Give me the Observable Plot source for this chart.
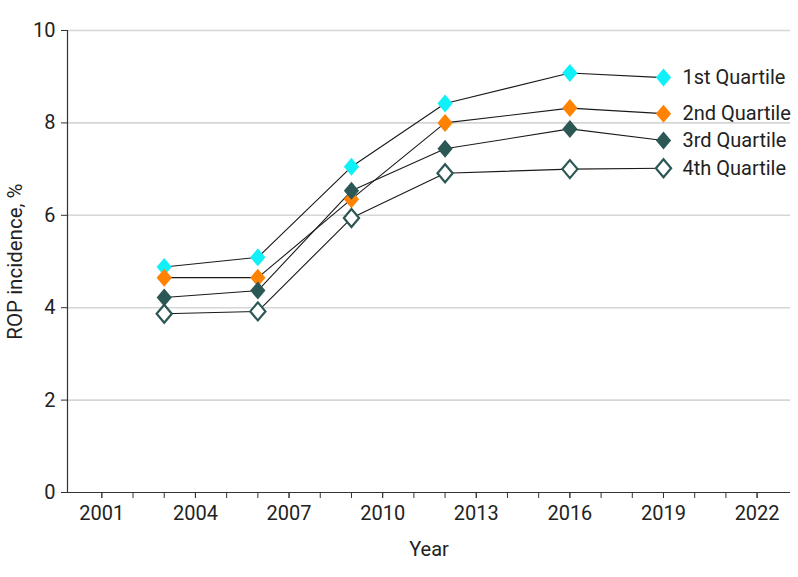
<!DOCTYPE html>
<html>
<head>
<meta charset="utf-8">
<script src="https://cdn.jsdelivr.net/npm/d3@7"></script>
<script src="https://cdn.jsdelivr.net/npm/@observablehq/plot@0.6"></script>
<style>
  html, body { margin: 0; padding: 0; background: #fff; }
  #chart svg { display: block; }
  #chart svg text { font-family: Roboto, sans-serif; font-size: 20px; }
  #chart svg g[aria-label="y-axis label"] text { font-size: 20.5px; }
</style>
</head>
<body>
<div id="chart"></div>
<script>
const years = [2003, 2006, 2009, 2012, 2016, 2019];
const seriesNames = ["1st Quartile", "2nd Quartile", "3rd Quartile", "4th Quartile"];
const q1 = [4.88, 5.09, 7.05, 8.42, 9.08, 8.98];
const q2 = [4.65, 4.65, 6.35, 8.00, 8.32, 8.20];
const q3 = [4.22, 4.37, 6.53, 7.44, 7.87, 7.62];
const q4 = [3.87, 3.92, 5.94, 6.91, 7.00, 7.02];
const fills = ["#0ff0f8", "#ff8200", "#2b5755", "#ffffff"];
const strokes = ["none", "none", "none", "#2b5755"];
const yTicks = [0, 2, 4, 6, 8, 10];
const xLabelTicks = [2001, 2004, 2007, 2010, 2013, 2016, 2019, 2022];
const xMinorTicks = d3.range(2001, 2023);

const values = [q1, q2, q3, q4];
const data = [];
values.forEach((vals, s) => {
  vals.forEach((v, i) => data.push({year: years[i], value: v, series: seriesNames[s], si: s}));
});
const lastPoints = seriesNames.map((name, s) => ({year: years[years.length - 1], value: values[s][years.length - 1], series: name}));

const diamond = {
  draw(context, size) {
    const h = 9.0, w = 7.6;
    context.moveTo(0, -h);
    context.lineTo(w, 0);
    context.lineTo(0, h);
    context.lineTo(-w, 0);
    context.closePath();
  }
};

const xDomain = [1999.9, 2023.07];

const chart = Plot.plot({
  width: 798,
  height: 577,
  marginLeft: 67,
  marginRight: 8,
  marginTop: 30,
  marginBottom: 85,
  style: {fontFamily: "Roboto, sans-serif", fontSize: "20px", color: "#222", background: "#fff"},
  x: {domain: xDomain},
  y: {domain: [0, 10]},
  marks: [
    Plot.ruleY(yTicks.filter(d => d > 0), {stroke: "#d6d6d6", strokeWidth: 1.6}),
    Plot.axisY(yTicks, {tickSize: 6, tickPadding: 6, tickFormat: d3.format("d"), label: "ROP incidence, %", labelAnchor: "center", labelArrow: "none", labelOffset: 60, stroke: "#333"}),
    Plot.axisX(xMinorTicks, {tickSize: 6, tickFormat: () => "", label: null, stroke: "#333"}),
    Plot.axisX(xLabelTicks, {tickSize: 6, tickPadding: 7, tickFormat: d3.format("d"), label: "Year", labelAnchor: "center", labelArrow: "none", labelOffset: 63, stroke: "#333"}),
    Plot.ruleY([0], {stroke: "#333", strokeWidth: 1.2}),
    Plot.ruleX([xDomain[0]], {stroke: "#333", strokeWidth: 1.2}),
    Plot.line(data, {x: "year", y: "value", z: "series", stroke: "#1a1a1a", strokeWidth: 1.1}),
    Plot.dot(data, {x: "year", y: "value", symbol: () => diamond, r: 8, fill: d => fills[d.si], stroke: d => strokes[d.si], strokeWidth: 2.2}),
    Plot.text(lastPoints, {x: "year", y: "value", text: "series", dx: 19, textAnchor: "start", fill: "#222"})
  ]
});
document.getElementById("chart").appendChild(chart);
</script>
</body>
</html>
